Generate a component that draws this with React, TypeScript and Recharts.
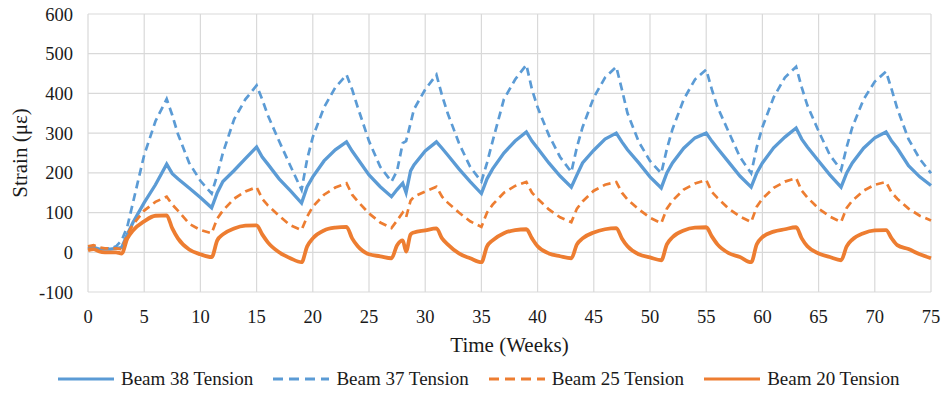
import { LineChart, Line, XAxis, YAxis, CartesianGrid, Legend } from 'recharts';

const weeks = [
  0, 0.5, 1, 1.5, 2, 2.5, 3,
  3.5, 4, 5, 6, 7, 7.5, 8, 9, 10, 11,
  11.5, 12, 13, 14, 15, 15.5, 16, 17, 18, 19,
  19.5, 20, 21, 22, 23, 23.5, 24, 25, 26, 27,
  27.5, 28, 28.3, 28.7, 29, 30, 31, 31.5, 32, 33, 34, 35,
  35.5, 36, 37, 38, 39, 39.5, 40, 41, 42, 43,
  43.5, 44, 45, 46, 47, 47.5, 48, 49, 50, 51,
  51.5, 52, 53, 54, 55, 55.5, 56, 57, 58, 59,
  59.5, 60, 61, 62, 63, 63.5, 64, 65, 66, 67,
  67.5, 68, 69, 70, 71, 71.5, 72, 73, 74, 75,
];

const beam38 = [
  10, 12, 8, 8, 8, 10, 12,
  45, 75, 125, 170, 222, 198, 185, 162, 138, 112,
  150, 178, 206, 236, 265, 240, 222, 185, 155, 124,
  165, 190, 230, 258, 278, 255, 235, 195, 165, 140,
  158, 174, 150, 205, 220, 255, 278, 262, 245, 210, 178, 148,
  185, 210, 250, 280, 303, 280, 262, 225, 192, 164,
  195, 225, 257, 285, 300, 278, 258, 225, 190, 162,
  200, 225, 262, 288, 300, 280, 262, 227, 192, 164,
  200, 225, 263, 290, 313, 285, 265, 230, 195, 164,
  200, 225, 262, 288, 303, 280, 262, 218, 190, 168,
];

const beam37 = [
  15, 12, 10, 10, 10, 15, 30,
  65, 125, 245, 330, 386, 345, 298, 225, 180, 148,
  195, 250, 335, 385, 420, 385, 345, 280, 218, 157,
  235, 290, 365, 415, 447, 410, 365, 280, 215, 178,
  205, 275, 280, 325, 360, 410, 447, 395, 350, 275, 215, 178,
  225, 280, 385, 435, 472, 410, 365, 295, 240, 202,
  265, 315, 390, 440, 467, 410, 350, 278, 230, 199,
  260, 310, 385, 435, 460, 410, 366, 303, 240, 199,
  265, 315, 390, 440, 467, 415, 370, 305, 245, 207,
  265, 315, 385, 430, 455, 410, 362, 285, 235, 199,
];

const beam25 = [
  15, 18, 12, 10, 10, 10, 8,
  45, 70, 105, 127, 140, 120, 105, 72, 56, 48,
  85, 105, 135, 153, 164, 135, 118, 92, 68, 56,
  90, 115, 145, 163, 174, 145, 128, 98, 75, 61,
  80, 100, 88, 130, 140, 153, 165, 140, 125, 100, 78, 64,
  100, 120, 150, 167, 177, 150, 135, 108, 88, 76,
  110, 128, 155, 170, 177, 150, 133, 108, 87, 73,
  110, 130, 158, 173, 182, 152, 137, 110, 90, 76,
  115, 135, 162, 178, 187, 155, 138, 110, 90, 76,
  112, 130, 155, 170, 177, 150, 135, 110, 92, 80,
];

const beam20 = [
  5, 8, 2, 0, 0, 0, -3,
  35, 55, 78, 92, 93, 60, 35, 7, -5, -12,
  30, 45, 60, 67, 68, 45, 25, 0, -15, -25,
  15, 35, 55, 62, 64, 35, 15, -5, -10, -15,
  18, 30, 2, 45, 50, 55, 60, 35, 20, -3, -15, -25,
  15, 30, 48, 56, 58, 35, 15, -3, -10, -15,
  20, 35, 50, 58, 61, 35, 15, -5, -13, -20,
  20, 38, 55, 62, 63, 40, 20, -2, -12, -25,
  20, 38, 52, 58, 63, 35, 15, -3, -12, -20,
  15, 32, 48, 55, 56, 35, 18, 8, -5, -15,
];

const xTicks = [0, 5, 10, 15, 20, 25, 30, 35, 40, 45, 50, 55, 60, 65, 70, 75];
const yTicks = [-100, 0, 100, 200, 300, 400, 500, 600];

const BLUE = '#5B9BD5';
const ORANGE = '#ED7D31';
const FONT = "'Liberation Serif', 'DejaVu Serif', 'Noto Serif', 'Times New Roman', Times, serif";

const series = [
  { key: 'b38', name: 'Beam 38 Tension', color: BLUE, dash: undefined, width: 3.3, curve: 'linear', legendDash: undefined },
  { key: 'b37', name: 'Beam 37 Tension', color: BLUE, dash: '8 5', width: 2.7, curve: 'linear', legendDash: '10 6' },
  { key: 'b25', name: 'Beam 25 Tension', color: ORANGE, dash: '8 5', width: 2.7, curve: 'linear', legendDash: '10 6' },
  { key: 'b20', name: 'Beam 20 Tension', color: ORANGE, dash: undefined, width: 3.8, curve: 'monotone', legendDash: undefined },
];

const data = weeks.map((w, i) => ({
  week: w,
  b38: beam38[i],
  b37: beam37[i],
  b25: beam25[i],
  b20: beam20[i],
}));

function LegendRow() {
  return (
    <div style={{ display: 'flex', alignItems: 'center', height: 26, paddingLeft: 58, fontFamily: FONT, fontSize: 19, color: '#1a1a1a' }}>
      {series.map(s => (
        <div key={s.key} style={{ display: 'flex', alignItems: 'center', marginRight: 20 }}>
          <svg width={56} height={10} style={{ marginRight: 7 }}>
            <line x1={0} y1={5} x2={56} y2={5} stroke={s.color} strokeWidth={3} strokeDasharray={s.legendDash} />
          </svg>
          <span style={{ whiteSpace: 'nowrap' }}>{s.name}</span>
        </div>
      ))}
    </div>
  );
}

export default function App() {
  return (
    <div style={{ position: 'absolute', left: 0, top: 0, width: 941, height: 394, background: '#fff', fontFamily: FONT }}>
      <LineChart width={941} height={394} data={data} margin={{ top: 14, right: 10, left: 0, bottom: 32 }} style={{ fontFamily: FONT }}>
        <CartesianGrid stroke="#d9d9d9" strokeWidth={1.2} />
        <XAxis
          dataKey="week"
          type="number"
          domain={[0, 75]}
          ticks={xTicks}
          axisLine={false}
          tickLine={false}
          tickSize={0}
          tickMargin={18}
          height={70}
          tick={{ fontFamily: FONT, fontSize: 18.5, fill: '#1a1a1a' }}
          label={{ value: 'Time (Weeks)', position: 'insideBottom', offset: 10, style: { fontFamily: FONT, fontSize: 21, fill: '#1a1a1a' } }}
        />
        <YAxis
          type="number"
          domain={[-100, 600]}
          ticks={yTicks}
          axisLine={false}
          tickLine={false}
          tickSize={0}
          tickMargin={15}
          width={88}
          tick={{ fontFamily: FONT, fontSize: 18.5, fill: '#1a1a1a' }}
          label={{ value: 'Strain (με)', angle: -90, position: 'insideLeft', offset: 20, style: { textAnchor: 'middle', fontFamily: FONT, fontSize: 21, fill: '#1a1a1a' } }}
        />
        <Legend
          verticalAlign="middle"
          align="center"
          layout="horizontal"
          content={() => <LegendRow />}
          wrapperStyle={{ top: 366, left: 0, width: 941, height: 26 }}
        />
        {series.map(s => (
          <Line
            key={s.key}
            dataKey={s.key}
            name={s.name}
            type={s.curve as 'linear' | 'monotone'}
            stroke={s.color}
            strokeWidth={s.width}
            strokeDasharray={s.dash}
            dot={false}
            isAnimationActive={false}
          />
        ))}
      </LineChart>
    </div>
  );
}
